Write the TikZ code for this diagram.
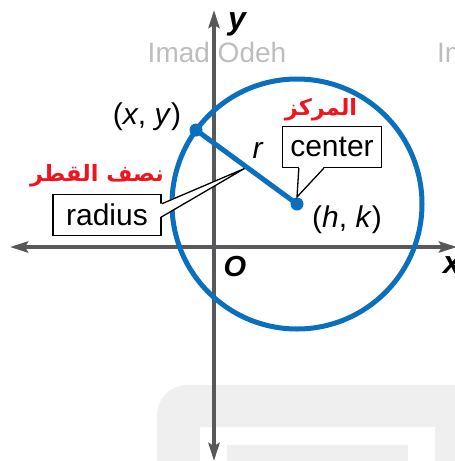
\documentclass[tikz,border=0pt]{standalone}
\usepackage{fontspec}
\setmainfont{Liberation Sans}
\newfontfamily\arabicfont[Script=Arabic]{DejaVu Sans}
\TeXXeTstate=1
\usetikzlibrary{arrows.meta,calc}
\definecolor{circblue}{HTML}{0A70BE}
\definecolor{axisgray}{HTML}{58585A}
\definecolor{markgray}{HTML}{BDBDBD}
\definecolor{wmgray}{HTML}{EFEFEF}
\definecolor{arred}{HTML}{F0141E}

\begin{document}
\begin{tikzpicture}[x=1pt,y=-1pt,
    axisline/.style={axisgray,line width=4pt,
      {Stealth[length=18pt,width=11pt,inset=3pt]}-{Stealth[length=18pt,width=11pt,inset=3pt]}},
    lbl/.style={inner sep=0pt,font=\fontsize{30}{30}\selectfont},
    arlbl/.style={inner sep=0pt,text=arred,font=\arabicfont\bfseries\fontsize{22.5}{22.5}\selectfont},
    callbox/.style={draw,fill=white,line width=1.3pt,inner sep=0pt,
      font=\fontsize{30}{30}\selectfont},
    callline/.style={line width=1.3pt}]
  \useasboundingbox (0,0) rectangle (455,461);
  \clip (0,0) rectangle (455,461);

  % watermark
  \fill[wmgray,rounded corners=30pt] (157,385) rectangle (520,560);
  \fill[white] (200,427) rectangle (435,560);
  \fill[wmgray] (227,445) rectangle (408,560);
  \node[inner sep=0pt,text=markgray,font=\fontsize{28}{28}\selectfont] (mark) at (217,52) {Imad Odeh};
  \node[inner sep=0pt,text=markgray,font=\fontsize{28}{28}\selectfont,anchor=west] (markb) at (437,52) {Imad Odeh};

  % axes
  \coordinate (org) at (214,247);
  \draw[axisline] (214,461) -- (214,10);
  \draw[axisline] (10,247) -- (457,247);

  % circle and radius
  \coordinate (ctr) at (297,204);
  \coordinate (pt) at (196,130);
  \draw[circblue,line width=5pt] (ctr) circle[radius=125pt];
  \draw[circblue,line width=5pt] (pt) -- (ctr);
  \fill[circblue] (pt) circle[radius=6.5pt];
  \fill[circblue] (ctr) circle[radius=6.5pt];

  % labels
  \node[lbl,font=\bfseries\itshape\fontsize{32}{32}\selectfont] (ylbl) at (237,24) {y};
  \node[lbl,font=\bfseries\itshape\fontsize{32}{32}\selectfont,anchor=west] (xlbl) at (443,265) {x};
  \node[lbl,font=\bfseries\itshape\fontsize{29}{29}\selectfont] (olbl) at (235,267) {O};
  \node[lbl] (ptlbl) at (147,117) {(\textit{x}, \textit{y})};
  \node[lbl] (ctrlbl) at (347,220) {(\textit{h}, \textit{k})};
  \node[lbl] (rlbl) at (258,150) {\textit{r}};

  % callouts
  \node[callbox,minimum width=99pt,minimum height=41pt] (ctrbox) at (332,147) {center};
  \coordinate (ctrtip) at (297,197);
  \fill[white] ($(ctrbox.south west)+(17,-1.5)$) -- (ctrtip) -- ($(ctrbox.south west)+(42,-1.5)$) -- cycle;
  \draw[callline] ($(ctrbox.south west)+(17,0)$) -- (ctrtip) -- ($(ctrbox.south west)+(42,0)$);

  \node[callbox,minimum width=108pt,minimum height=41pt] (radbox) at (107,215) {radius};
  \coordinate (radtip) at ($(pt)!0.48!(ctr)+(0,3)$);
  \fill[white] ($(radbox.north east)+(-1.5,10)$) -- (radtip) -- ($(radbox.north east)+(-1.5,23)$) -- cycle;
  \draw[callline] ($(radbox.north east)+(0,10)$) -- (radtip) -- ($(radbox.north east)+(0,23)$);

  % arabic
  \node[arlbl] (ctrar) at (321,110) {\beginR المركز\endR};
  \node[arlbl] (radar) at (97,176) {\beginR نصف القطر\endR};
\end{tikzpicture}
\end{document}
